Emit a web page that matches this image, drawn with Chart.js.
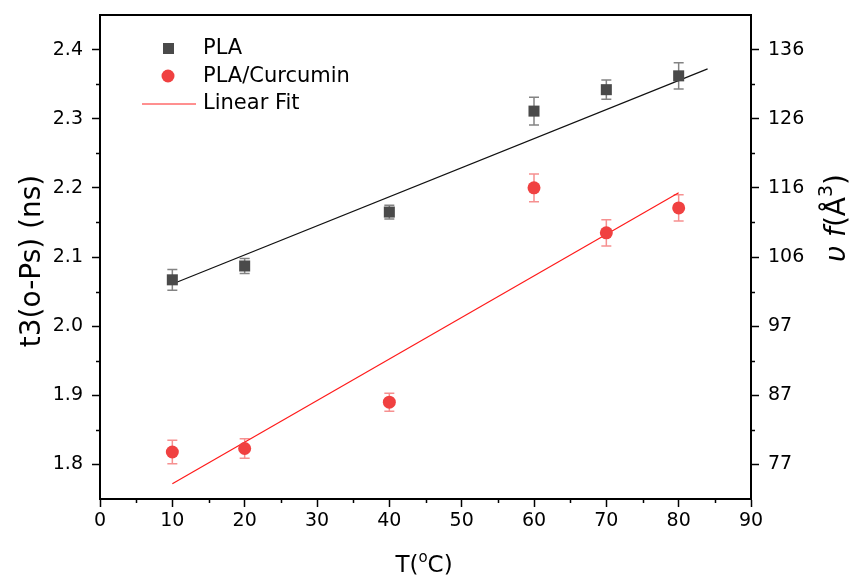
<!DOCTYPE html>
<html>
<head>
<meta charset="utf-8">
<script src="https://cdn.jsdelivr.net/npm/chart.js@4/dist/chart.umd.min.js"></script>
<style>
  body { margin: 0; background: #fff; }
  canvas { display: block; }
</style>
</head>
<body>
<canvas id="chart" width="853" height="578"></canvas>
<script>
// data
const temps = [10, 20, 40, 60, 70, 80];
const plaT3 = [2.067, 2.087, 2.165, 2.311, 2.342, 2.362];
const plaErr = [0.015, 0.011, 0.010, 0.020, 0.014, 0.019];
const curT3 = [1.818, 1.823, 1.890, 2.200, 2.135, 2.171];
const curErr = [0.017, 0.014, 0.013, 0.020, 0.019, 0.019];

// linear fit end points
const plaFitX = [10, 84];
const plaFitY = [2.061, 2.372];
const curFitX = [10, 80];
const curFitY = [1.772, 2.193];

const yTicks = [1.8, 1.9, 2.0, 2.1, 2.2, 2.3, 2.4];
const yMinor = [1.85, 1.95, 2.05, 2.15, 2.25, 2.35];
const rightLabels = ['77', '87', '97', '106', '116', '126', '136'];
const xMinor = [5, 15, 25, 35, 45, 55, 65, 75, 85];

const FONT = 'DejaVu Sans';
const toPts = (xs, ys) => xs.map((x, i) => ({ x: x, y: ys[i] }));

const decor = {
  id: 'decor',
  beforeDatasetsDraw(chart) {
    const ctx = chart.ctx;
    const xs = chart.scales.x, ys = chart.scales.y;
    const bars = [
      { v: plaT3, e: plaErr, c: 'rgba(90,90,90,0.75)' },
      { v: curT3, e: curErr, c: 'rgba(240,70,70,0.6)' }
    ];
    ctx.save();
    ctx.lineWidth = 1.5;
    bars.forEach(b => {
      ctx.strokeStyle = b.c;
      temps.forEach((t, i) => {
        const px = xs.getPixelForValue(t);
        const y1 = ys.getPixelForValue(b.v[i] + b.e[i]);
        const y2 = ys.getPixelForValue(b.v[i] - b.e[i]);
        ctx.beginPath();
        ctx.moveTo(px, y1); ctx.lineTo(px, y2);
        ctx.moveTo(px - 5, y1); ctx.lineTo(px + 5, y1);
        ctx.moveTo(px - 5, y2); ctx.lineTo(px + 5, y2);
        ctx.stroke();
      });
    });
    ctx.restore();
  },
  afterDraw(chart) {
    const ctx = chart.ctx;
    const a = chart.chartArea;
    const xs = chart.scales.x, ys = chart.scales.y;
    ctx.save();
    // top frame line
    ctx.strokeStyle = '#000';
    ctx.lineWidth = 2;
    ctx.beginPath();
    ctx.moveTo(a.left - 1, a.top); ctx.lineTo(a.right + 1, a.top);
    ctx.stroke();
    // minor ticks
    ctx.lineWidth = 1.5;
    ctx.beginPath();
    yMinor.forEach(v => {
      const p = Math.round(ys.getPixelForValue(v)) + 0.5;
      ctx.moveTo(a.left, p); ctx.lineTo(a.left - 4, p);
      ctx.moveTo(a.right, p); ctx.lineTo(a.right + 4, p);
    });
    xMinor.forEach(v => {
      const p = Math.round(xs.getPixelForValue(v)) + 0.5;
      ctx.moveTo(p, a.bottom); ctx.lineTo(p, a.bottom + 4);
    });
    ctx.stroke();

    // legend
    ctx.fillStyle = '#4a4a4a';
    ctx.fillRect(163, 43, 11, 11);
    ctx.fillStyle = '#f04141';
    ctx.beginPath();
    ctx.arc(168, 76, 6.5, 0, Math.PI * 2);
    ctx.fill();
    ctx.strokeStyle = '#ff2020';
    ctx.lineWidth = 1;
    ctx.beginPath();
    ctx.moveTo(142, 104); ctx.lineTo(196, 104);
    ctx.stroke();
    ctx.fillStyle = '#000';
    ctx.font = '21px "' + FONT + '"';
    ctx.textBaseline = 'middle';
    ctx.textAlign = 'left';
    ctx.fillText('PLA', 203, 49);
    ctx.fillText('PLA/Curcumin', 203, 77);
    ctx.fillText('Linear Fit', 203, 104);

    // x title  T(°C)
    ctx.textBaseline = 'alphabetic';
    drawRich(ctx, [
      { t: 'T(', f: '23px "' + FONT + '"', dy: 0 },
      { t: 'o', f: '15px "' + FONT + '"', dy: -10 },
      { t: 'C)', f: '23px "' + FONT + '"', dy: 0 }
    ], 424, 572);

    // left title
    ctx.translate(40, 261);
    ctx.rotate(-Math.PI / 2);
    drawRich(ctx, [
      { t: 't3(o-Ps) (ns)', f: '28px "' + FONT + '"', dy: 0 }
    ], 0, 0);
    ctx.setTransform(1, 0, 0, 1, 0, 0);

    // right title
    ctx.translate(845, 218);
    ctx.rotate(-Math.PI / 2);
    drawRich(ctx, [
      { t: 'υ f', f: 'italic 28px "' + FONT + '"', dy: 0 },
      { t: '(Å', f: '28px "' + FONT + '"', dy: 0 },
      { t: '3', f: '19px "' + FONT + '"', dy: -13 },
      { t: ')', f: '28px "' + FONT + '"', dy: 0 }
    ], 0, 0);
    ctx.restore();
  }
};

function drawRich(ctx, parts, cx, y) {
  let total = 0;
  parts.forEach(p => { ctx.font = p.f; p.w = ctx.measureText(p.t).width; total += p.w; });
  let x = cx - total / 2;
  ctx.textAlign = 'left';
  ctx.fillStyle = '#000';
  parts.forEach(p => {
    ctx.font = p.f;
    ctx.fillText(p.t, x, y + p.dy);
    x += p.w;
  });
}

const tickFont = { family: FONT, size: 19 };
const noPad = s => { s.paddingTop = 0; s.paddingBottom = 0; s.paddingLeft = 0; s.paddingRight = 0; };

new Chart(document.getElementById('chart'), {
  type: 'scatter',
  data: {
    datasets: [
      {
        label: 'PLA',
        data: toPts(temps, plaT3),
        pointStyle: 'rect',
        pointRadius: 7.8,
        backgroundColor: '#4a4a4a',
        borderColor: '#4a4a4a',
        borderWidth: 0
      },
      {
        label: 'PLA/Curcumin',
        data: toPts(temps, curT3),
        pointStyle: 'circle',
        pointRadius: 6.5,
        backgroundColor: '#f04141',
        borderColor: '#f04141',
        borderWidth: 0
      },
      {
        label: 'PLA fit',
        data: toPts(plaFitX, plaFitY),
        showLine: true,
        pointRadius: 0,
        borderColor: '#111',
        borderWidth: 1.2
      },
      {
        label: 'Linear Fit',
        data: toPts(curFitX, curFitY),
        showLine: true,
        pointRadius: 0,
        borderColor: '#ff1a1a',
        borderWidth: 1.2
      }
    ]
  },
  options: {
    responsive: false,
    devicePixelRatio: 1,
    animation: false,
    layout: { padding: { top: 15, left: 0, right: 0, bottom: 0 } },
    plugins: { legend: { display: false }, tooltip: { enabled: false } },
    scales: {
      x: {
        type: 'linear',
        min: 0, max: 90,
        afterFit: s => { s.height = 79; noPad(s); },
        ticks: { stepSize: 10, color: '#000', font: tickFont, padding: 3 },
        grid: { drawOnChartArea: false, tickLength: 8, tickWidth: 1.5, tickColor: '#000' },
        border: { display: true, color: '#000', width: 2 }
      },
      y: {
        type: 'linear',
        position: 'left',
        min: 1.75, max: 2.45,
        afterFit: s => { s.width = 100; noPad(s); },
        afterBuildTicks: s => { s.ticks = yTicks.map(v => ({ value: v })); },
        ticks: { color: '#000', font: tickFont, padding: 9, callback: v => v.toFixed(1) },
        grid: { drawOnChartArea: false, tickLength: 8, tickWidth: 1.5, tickColor: '#000' },
        border: { display: true, color: '#000', width: 2 }
      },
      y2: {
        type: 'linear',
        position: 'right',
        min: 1.75, max: 2.45,
        afterFit: s => { s.width = 102; noPad(s); },
        afterBuildTicks: s => { s.ticks = yTicks.map(v => ({ value: v })); },
        ticks: { color: '#000', font: tickFont, padding: 9, callback: (v, i) => rightLabels[i] },
        grid: { drawOnChartArea: false, tickLength: 8, tickWidth: 1.5, tickColor: '#000' },
        border: { display: true, color: '#000', width: 2 }
      }
    }
  },
  plugins: [decor]
});
</script>
</body>
</html>
